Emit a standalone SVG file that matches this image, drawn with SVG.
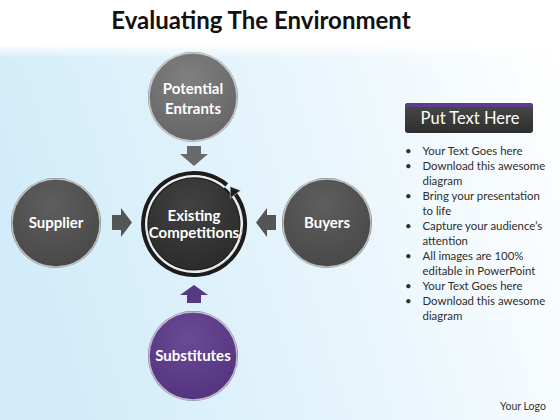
<svg xmlns="http://www.w3.org/2000/svg" width="560" height="420" viewBox="0 0 560 420">
<defs>
<linearGradient id="bg" x1="0" y1="0.2" x2="1" y2="0">
<stop offset="0" stop-color="#d2edf9"/>
<stop offset="0.5" stop-color="#e8f5fc"/>
<stop offset="1" stop-color="#ffffff"/>
</linearGradient>
<linearGradient id="topfade" x1="0" y1="0" x2="0" y2="1">
<stop offset="0" stop-color="#ffffff" stop-opacity="1"/>
<stop offset="1" stop-color="#ffffff" stop-opacity="0"/>
</linearGradient>
<radialGradient id="gGray" cx="0.45" cy="0.3" r="0.75">
<stop offset="0" stop-color="#808080"/>
<stop offset="1" stop-color="#646464"/>
</radialGradient>
<radialGradient id="gDark" cx="0.45" cy="0.3" r="0.75">
<stop offset="0" stop-color="#5e5e5e"/>
<stop offset="1" stop-color="#474747"/>
</radialGradient>
<radialGradient id="gCenter" cx="0.45" cy="0.3" r="0.75">
<stop offset="0" stop-color="#424242"/>
<stop offset="1" stop-color="#2a2a2a"/>
</radialGradient>
<radialGradient id="gPurple" cx="0.45" cy="0.3" r="0.75">
<stop offset="0" stop-color="#6a4a96"/>
<stop offset="1" stop-color="#52327c"/>
</radialGradient>
<linearGradient id="gBox" x1="0" y1="0" x2="0" y2="1">
<stop offset="0" stop-color="#4a4a4a"/>
<stop offset="1" stop-color="#2e2e2e"/>
</linearGradient>
</defs>
<style>
.rim{fill:none;stroke:#e6e6e6;stroke-width:1.5;stroke-opacity:0.75}
.lbl{font-family:Lato,"Open Sans","Liberation Sans",sans-serif;font-weight:bold;font-size:15px;fill:#ffffff;text-anchor:middle}
.body{font-family:Lato,"Open Sans","Liberation Sans",sans-serif;font-size:11.4px;fill:#2e2e2e}
</style>
<rect x="0" y="0" width="560" height="420" fill="#ffffff"/>
<rect x="0" y="44" width="560" height="376" fill="url(#bg)"/>
<rect x="0" y="44" width="560" height="14" fill="url(#topfade)"/>
<text x="261" y="29" font-family="Lato,'Open Sans','Liberation Sans',sans-serif" font-weight="bold" font-size="24" fill="#111111" text-anchor="middle">Evaluating The Environment</text>

<g id="connectors">
<path d="M187,146 H201 V154 H208 L194,166 L180,154 H187 Z" fill="#6a6a6a"/>
<path d="M112,215 H121 V208 L132,222.5 L121,237 V230 H112 Z" fill="#555555"/>
<path d="M276,215 H267 V208 L256,222.5 L267,237 V230 H276 Z" fill="#555555"/>
<path d="M187,303 H201 V295 H208 L194,285 L180,295 H187 Z" fill="#573884"/>
</g>

<g id="potential">
<circle cx="193" cy="97" r="45" fill="url(#gGray)"/>
<circle cx="193" cy="97" r="44" class="rim"/>
<text class="lbl" x="193" y="94">Potential</text>
<text class="lbl" x="193" y="114">Entrants</text>
</g>
<g id="supplier">
<circle cx="56" cy="223" r="45" fill="url(#gDark)"/>
<circle cx="56" cy="223" r="44" class="rim"/>
<text class="lbl" x="56" y="228">Supplier</text>
</g>
<g id="buyers">
<circle cx="327" cy="223" r="45" fill="url(#gDark)"/>
<circle cx="327" cy="223" r="44" class="rim"/>
<text class="lbl" x="327" y="228">Buyers</text>
</g>
<g id="substitutes">
<circle cx="193" cy="356" r="45" fill="url(#gPurple)"/>
<circle cx="193" cy="356" r="44" class="rim"/>
<text class="lbl" x="193" y="361">Substitutes</text>
</g>
<g id="existing">
<circle cx="194" cy="224" r="48" fill="#1e1e1e"/>
<circle cx="194" cy="224" r="45.5" fill="url(#gCenter)"/>
<path d="M226.8,184.9 A51,51 0 1 0 235.3,194" fill="none" stroke="#1c1c1c" stroke-width="4"/>
<path d="M224.5,187.6 A47.5,47.5 0 1 0 232.4,196.1" fill="none" stroke="#f0f0f0" stroke-width="1.8"/>
<path d="M230.4,198 L240.6,190.5 L230.1,186.5 Z" fill="#1c1c1c" stroke="#d8d8d8" stroke-width="0.6"/>
<text class="lbl" x="194" y="221">Existing</text>
<text class="lbl" x="194" y="238">Competitions</text>
</g>

<g id="panel">
<rect x="405" y="103" width="128" height="30" rx="3" fill="url(#gBox)"/>
<path d="M405,106 A3,3 0 0 1 408,103 H530 A3,3 0 0 1 533,106 V107 H405 Z" fill="#5b3d8a"/>
<text x="470" y="124" font-family="Lato,'Open Sans','Liberation Sans',sans-serif" font-size="16.5" fill="#ffffff" text-anchor="middle">Put Text Here</text>
<g class="body">
<text x="405" y="155">•</text><text x="422.5" y="155">Your Text Goes here</text>
<text x="405" y="170">•</text><text x="422.5" y="170">Download this awesome</text>
<text x="422.5" y="185">diagram</text>
<text x="405" y="200">•</text><text x="422.5" y="200">Bring your presentation</text>
<text x="422.5" y="215">to life</text>
<text x="405" y="230">•</text><text x="422.5" y="230">Capture your audience’s</text>
<text x="422.5" y="245">attention</text>
<text x="405" y="260">•</text><text x="422.5" y="260">All images are 100%</text>
<text x="422.5" y="274.5">editable in PowerPoint</text>
<text x="405" y="289.5">•</text><text x="422.5" y="289.5">Your Text Goes here</text>
<text x="405" y="304.5">•</text><text x="422.5" y="304.5">Download this awesome</text>
<text x="422.5" y="319.5">diagram</text>
</g>
</g>
<text x="523" y="410" font-family="Lato,'Open Sans','Liberation Sans',sans-serif" font-size="10.5" fill="#333333" text-anchor="middle">Your Logo</text>
</svg>
